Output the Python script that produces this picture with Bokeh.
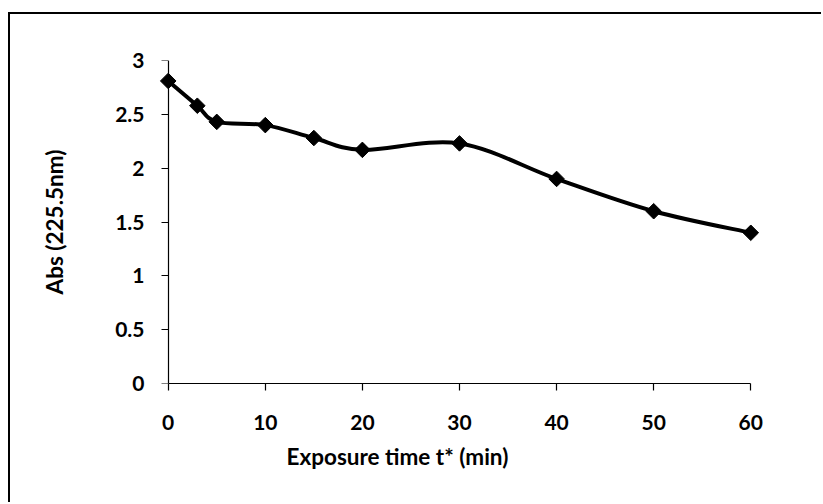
import numpy as np
from bokeh.plotting import figure
from bokeh.models import Range1d, FixedTicker, LinearAxis, Title
from bokeh.embed import file_html
from bokeh.resources import INLINE

# ---- data ----
time_min = [0, 3, 5, 10, 15, 20, 30, 40, 50, 60]
absorbance = [2.81, 2.58, 2.43, 2.40, 2.28, 2.17, 2.23, 1.90, 1.60, 1.40]
x_ticks = [0, 10, 20, 30, 40, 50, 60]
y_ticks = [0, 0.5, 1, 1.5, 2, 2.5, 3]
y_tick_labels = ["0", "0.5", "1", "1.5", "2", "2.5", "3"]
x_title = "Exposure time t* (min)"
y_title = "Abs (225.5nm)"

FONT = "Lato"
FS_TICK = "21px"
FS_TITLE = "22.5px"

p = figure(width=813, height=490, output_backend="svg", toolbar_location=None,
           x_range=Range1d(-1, 61), y_range=Range1d(0, 3),
           min_border_left=148, min_border_right=63,
           min_border_top=46, min_border_bottom=121)
p.styles = {"margin-left": "10px", "margin-top": "14px",
            "background-color": "white",
            "box-shadow": "-2px -2px 0px 0px black"}
p.outline_line_color = None
p.grid.visible = False
p.background_fill_color = "white"
p.border_fill_color = "white"

# smooth (Excel-like) curve through the points: cubic Bezier segments
P = np.column_stack([time_min, absorbance]).astype(float)
n = len(P)
segs = {k: [] for k in ["x0", "y0", "x1", "y1", "cx0", "cy0", "cx1", "cy1"]}
for i in range(n - 1):
    pm = P[i - 1] if i > 0 else P[i]
    p0, p1 = P[i], P[i + 1]
    pp = P[i + 2] if i + 2 < n else P[i + 1]
    c0 = p0 + (p1 - pm) / 6.0
    c1 = p1 - (pp - p0) / 6.0
    segs["x0"].append(p0[0]); segs["y0"].append(p0[1])
    segs["x1"].append(p1[0]); segs["y1"].append(p1[1])
    segs["cx0"].append(c0[0]); segs["cy0"].append(c0[1])
    segs["cx1"].append(c1[0]); segs["cy1"].append(c1[1])
p.bezier(x0=segs["x0"], y0=segs["y0"], x1=segs["x1"], y1=segs["y1"],
         cx0=segs["cx0"], cy0=segs["cy0"], cx1=segs["cx1"], cy1=segs["cy1"],
         line_color="black", line_width=4)

p.scatter(time_min, absorbance, marker="square", angle=np.pi / 4, size=11,
          fill_color="black", line_color="black", line_width=1)

# x axis (at y = 0, which is the frame bottom)
xa = p.xaxis[0]
xa.ticker = FixedTicker(ticks=x_ticks)
xa.bounds = (0, 60)
xa.axis_line_color = "black"
xa.axis_line_width = 1.2
xa.major_tick_line_color = "black"
xa.major_tick_line_width = 1.2
xa.major_tick_in = 0
xa.major_tick_out = 7
xa.minor_tick_line_color = None
xa.major_label_standoff = 24

# y axis labels (at the frame's left edge; line and ticks hidden)
ya = p.yaxis[0]
ya.ticker = FixedTicker(ticks=y_ticks)
ya.major_label_overrides = {t: l for t, l in zip(y_ticks, y_tick_labels)}
ya.axis_line_color = None
ya.major_tick_line_color = None
ya.minor_tick_line_color = None
ya.major_tick_in = 0
ya.major_tick_out = 0
ya.major_label_standoff = 14
ya.axis_label = y_title
ya.axis_label_standoff = 44

# y axis line and ticks drawn at x = 0 (ticks as unlabeled minor ticks)
ya_line = LinearAxis(fixed_location=0,
                     ticker=FixedTicker(ticks=[], minor_ticks=y_ticks), bounds=(0, 3),
                     axis_line_color="black", axis_line_width=1.2,
                     major_tick_line_color=None,
                     minor_tick_line_color="black", minor_tick_line_width=1.2,
                     minor_tick_in=0, minor_tick_out=7)
p.add_layout(ya_line, "left")

for ax in (xa, ya):
    ax.major_label_text_font = FONT
    ax.major_label_text_font_style = "bold"
    ax.major_label_text_font_size = FS_TICK
    ax.major_label_text_color = "black"
    ax.axis_label_text_font = FONT
    ax.axis_label_text_font_style = "bold"
    ax.axis_label_text_font_size = FS_TITLE
    ax.axis_label_text_color = "black"

p.add_layout(Title(text=x_title, align="left", offset=128, standoff=16,
                   text_font=FONT, text_font_style="bold", text_font_size=FS_TITLE,
                   text_color="black"), "below")

open("out.html", "w").write(file_html(p, INLINE))
